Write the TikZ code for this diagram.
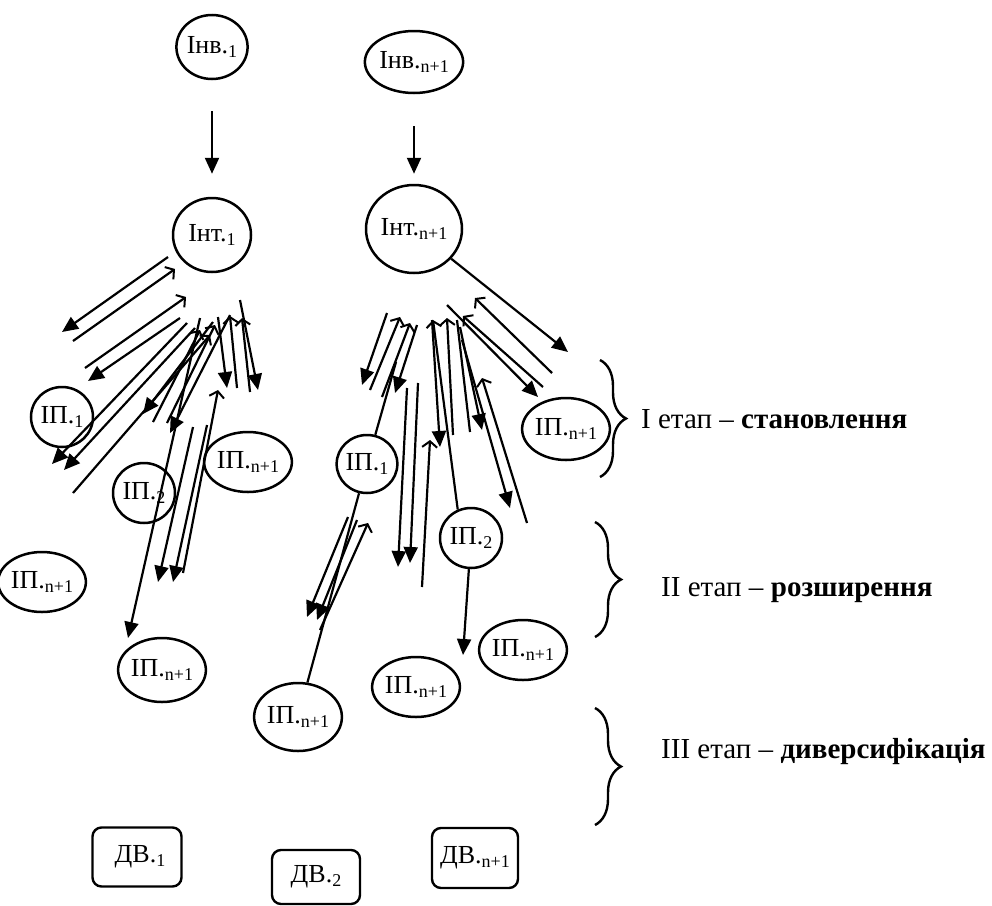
\documentclass[tikz,border=0pt]{standalone}
\usepackage{fontspec}
\setmainfont{Liberation Serif}
\usetikzlibrary{arrows.meta,shapes.geometric,decorations.pathreplacing}
\newcommand\lowx[1]{\raisebox{-0.28ex}{\fontsize{18}{18}\selectfont #1}}
\tikzset{
  ell/.style={draw, ellipse, line width=2.5pt, inner sep=0pt},
  bx/.style={draw, rectangle, rounded corners=9pt, line width=2.4pt, inner sep=0pt},
  fa/.style={line width=2.2pt, -{Triangle[length=16pt,width=14pt]}},
  oa/.style={line width=2.2pt, -{Straight Barb[length=6pt,width=15pt,line width=2pt]}},
  pl/.style={line width=2.2pt},
  brc/.style={line width=2.4pt, decorate, decoration={brace, amplitude=26pt}},
  lab/.style={anchor=west, inner sep=0pt, font=\fontsize{29}{34}\selectfont}
}
\begin{document}
\begin{tikzpicture}[x=1pt,y=-1pt,font=\fontsize{26}{30}\selectfont]
\useasboundingbox (0,0) rectangle (992,905);
% top nodes
\node[ell, minimum width=70pt, minimum height=64pt] (inv1) at (212,47) {Інв.\lowx{1}};
\node[ell, minimum width=88pt, minimum height=62pt] (inv2) at (414,62) {Інв.\lowx{n+1}};
\node[ell, minimum width=78pt, minimum height=74pt] (int1) at (212,235) {Інт.\lowx{1}};
\node[ell, minimum width=96pt, minimum height=88pt] (int2) at (414,229) {Інт.\lowx{n+1}};
% left group
\node[ell, minimum width=62pt, minimum height=60pt] (pa1) at (62,417) {ІП.\lowx{1}};
\node[ell, minimum width=62pt, minimum height=60pt] (pa2) at (144,493) {ІП.\lowx{2}};
\node[ell, minimum width=74pt, minimum height=60pt] (pa3) at (248,462) {ІП.\lowx{n+1}};
\node[ell, minimum width=62pt, minimum height=60pt] (pa4) at (42,582) {ІП.\lowx{n+1}};
\node[ell, minimum width=72pt, minimum height=64pt] (pa5) at (162,670) {ІП.\lowx{n+1}};
% right group
\node[ell, minimum width=60pt, minimum height=58pt] (pb1) at (367,464) {ІП.\lowx{1}};
\node[ell, minimum width=62pt, minimum height=60pt] (pb2) at (471,538) {ІП.\lowx{2}};
\node[ell, minimum width=78pt, minimum height=62pt] (pb3) at (566,429) {ІП.\lowx{n+1}};
\node[ell, minimum width=76pt, minimum height=60pt] (pb4) at (523,650) {ІП.\lowx{n+1}};
\node[ell, minimum width=72pt, minimum height=60pt] (pb5) at (416,687) {ІП.\lowx{n+1}};
\node[ell, minimum width=80pt, minimum height=68pt] (pb6) at (298,717) {ІП.\lowx{n+1}};
% boxes
\node[bx, minimum width=89pt, minimum height=59pt] (dv1) at (137,857) {\hspace*{6pt}ДВ.\lowx{1}};
\node[bx, minimum width=88pt, minimum height=54pt] (dv2) at (316,877) {ДВ.\lowx{2}};
\node[bx, minimum width=86pt, minimum height=60pt] (dv3) at (475,858) {ДВ.\lowx{n+1}};
% vertical arrows
\draw[fa, shorten <=31pt, shorten >=23pt] (inv1) -- (int1);
\draw[fa, shorten <=32pt, shorten >=10pt] (inv2) -- (int2);
% filled arrows with free ends
\foreach \xa/\ya/\xb/\yb [count=\i] in {
  168/257/62/332, 180/318/88/381, 187/323/52/464, 195/328/64/470,
  213/322/143/414, 230/315/170/433, 200/318/128/638, 218/317/227/388,
  240/300/258/390, 193/427/158/582, 207/425/173/582,
  387/313/362/385, 417/325/395/393, 407/388/398/567, 418/383/410/563,
  432/320/440/447, 460/327/482/430, 462/340/510/508, 447/305/538/397,
  348/517/307/617, 357/520/317/620} {
  \coordinate (fs\i) at (\xa,\ya);
  \coordinate (fe\i) at (\xb,\yb);
  \draw[fa] (fs\i) -- (fe\i);
}
% open arrows with free ends
\foreach \xa/\ya/\xb/\yb [count=\i] in {
  73/341/175/269, 85/368/186/297, 73/493/210/335, 153/422/200/330,
  167/423/215/325, 237/388/230/316, 250/392/242/318, 183/573/218/390,
  370/390/400/317, 382/397/410/323, 422/587/430/440, 453/435/447/318,
  527/523/482/378, 543/387/463/316, 552/373/475/298, 320/630/368/523} {
  \coordinate (os\i) at (\xa,\ya);
  \coordinate (oe\i) at (\xb,\yb);
  \draw[oa] (os\i) -- (oe\i);
}
% plain lines with free ends
\coordinate (ps1) at (470,432); \coordinate (pe1) at (457,320);
\draw[pl] (ps1) -- (pe1);
% node-anchored connectors
\coordinate (c0) at (568,352);
\draw[fa] (int2) -- (c0);
\coordinate (c5) at (396,362);
\draw[pl] (pb1) -- (c5);
\coordinate (c9) at (433,320);
\draw[oa] (pb2.115) -- (c9);
\coordinate (c23) at (463,655);
\draw[fa] (pb2) -- (c23);
\draw[pl] (pb1) -- (pb6);
% braces
\coordinate (b1a) at (600,360); \coordinate (b1b) at (600,477);
\coordinate (b2a) at (595,522); \coordinate (b2b) at (595,637);
\coordinate (b3a) at (595,708); \coordinate (b3b) at (595,825);
\draw[brc] (b1a) -- (b1b);
\draw[brc] (b2a) -- (b2b);
\draw[brc] (b3a) -- (b3b);
% stage labels
\node[lab] (lab1) at (641,419) {І етап – \textbf{становлення}};
\node[lab] (lab2) at (661,590) {ІІ етап – \textbf{розширення}};
\node[lab] (lab3) at (661,752) {ІІІ етап – \textbf{диверсифікація}};
\end{tikzpicture}
\end{document}
